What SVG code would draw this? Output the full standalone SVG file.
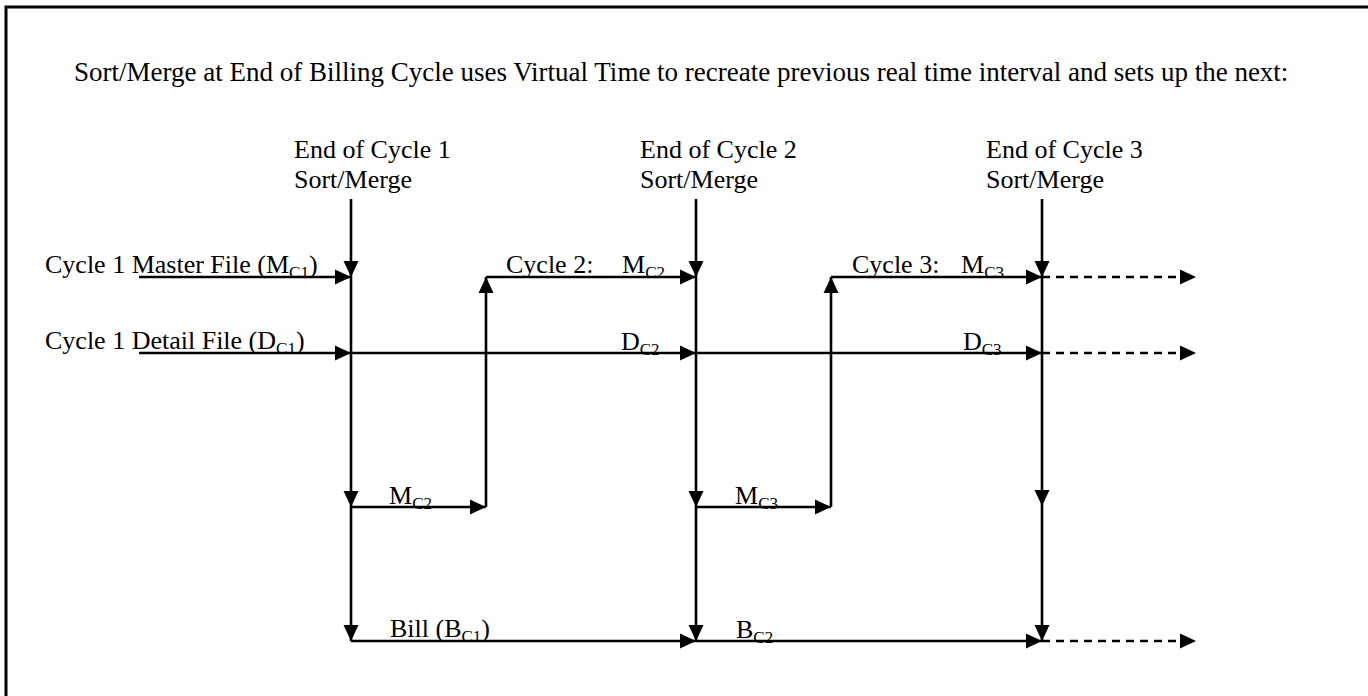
<svg xmlns="http://www.w3.org/2000/svg" width="1368" height="696" viewBox="0 0 1368 696">
<defs>
<marker id="ah" markerUnits="userSpaceOnUse" markerWidth="17" markerHeight="17" viewBox="0 0 17 17" refX="16" refY="8.5" orient="auto">
<path d="M0,1 L16,8.5 L0,16 Z" fill="#000"/>
</marker>
</defs>
<style>
text { font-family: "Liberation Serif", "Times New Roman", serif; font-size: 26px; fill: #000; }
.sub { font-size: 17px; }
.ln { stroke: #000; stroke-width: 2.6; fill: none; marker-end: url(#ah); }
.dash { stroke-dasharray: 8 6; }
</style>
<rect x="6" y="7" width="1400" height="720" fill="#fff" stroke="#000" stroke-width="3"/>
<g id="title"><text x="74" y="81" style="font-size:27px">Sort/Merge at End of Billing Cycle uses Virtual Time to recreate previous real time interval and sets up the next:</text></g>
<g id="sm1"><text x="294" y="158">End of Cycle 1</text><text x="294" y="188">Sort/Merge</text></g>
<g id="sm2"><text x="640" y="158">End of Cycle 2</text><text x="640" y="188">Sort/Merge</text></g>
<g id="sm3"><text x="986" y="158">End of Cycle 3</text><text x="986" y="188">Sort/Merge</text></g>
<g id="labels">
<text x="45" y="273">Cycle 1 Master File (M<tspan class="sub" dy="5">C1</tspan><tspan dy="-5">)</tspan></text>
<text x="45" y="349">Cycle 1 Detail File (D<tspan class="sub" dy="5">C1</tspan><tspan dy="-5">)</tspan></text>
<text x="506" y="273">Cycle 2:<tspan x="622">M</tspan><tspan class="sub" dy="5">C2</tspan></text>
<text x="621" y="350">D<tspan class="sub" dy="5">C2</tspan></text>
<text x="852" y="273">Cycle 3:<tspan x="961">M</tspan><tspan class="sub" dy="5">C3</tspan></text>
<text x="963" y="350">D<tspan class="sub" dy="5">C3</tspan></text>
<text x="389" y="504">M<tspan class="sub" dy="5">C2</tspan></text>
<text x="735" y="504">M<tspan class="sub" dy="5">C3</tspan></text>
<text x="390" y="637">Bill (B<tspan class="sub" dy="5">C1</tspan><tspan dy="-5">)</tspan></text>
<text x="736" y="638">B<tspan class="sub" dy="5">C2</tspan></text>
</g>
<g id="connectors">
<line class="ln" x1="351" y1="199" x2="351" y2="277"/>
<line class="ln" x1="351" y1="277" x2="351" y2="507"/>
<line class="ln" x1="351" y1="507" x2="351" y2="641"/>
<line class="ln" x1="696" y1="199" x2="696" y2="277"/>
<line class="ln" x1="696" y1="277" x2="696" y2="507"/>
<line class="ln" x1="696" y1="507" x2="696" y2="641"/>
<line class="ln" x1="1042" y1="199" x2="1042" y2="277"/>
<line class="ln" x1="1042" y1="277" x2="1042" y2="506"/>
<line class="ln" x1="1042" y1="506" x2="1042" y2="641"/>
<line class="ln" x1="139" y1="277" x2="351" y2="277"/>
<line class="ln" x1="486" y1="277" x2="696" y2="277"/>
<line class="ln" x1="831" y1="277" x2="1042" y2="277"/>
<line class="ln dash" x1="1042" y1="277" x2="1196" y2="277"/>
<line class="ln" x1="139" y1="353" x2="351" y2="353"/>
<line class="ln" x1="351" y1="353" x2="696" y2="353"/>
<line class="ln" x1="696" y1="353" x2="1042" y2="353"/>
<line class="ln dash" x1="1042" y1="353" x2="1196" y2="353"/>
<line class="ln" x1="351" y1="507" x2="486" y2="507"/>
<line class="ln" x1="486" y1="507" x2="486" y2="277"/>
<line class="ln" x1="696" y1="507" x2="831" y2="507"/>
<line class="ln" x1="831" y1="507" x2="831" y2="277"/>
<line class="ln" x1="351" y1="641" x2="696" y2="641"/>
<line class="ln" x1="696" y1="641" x2="1042" y2="641"/>
<line class="ln dash" x1="1042" y1="641" x2="1196" y2="641"/>
</g>
</svg>
